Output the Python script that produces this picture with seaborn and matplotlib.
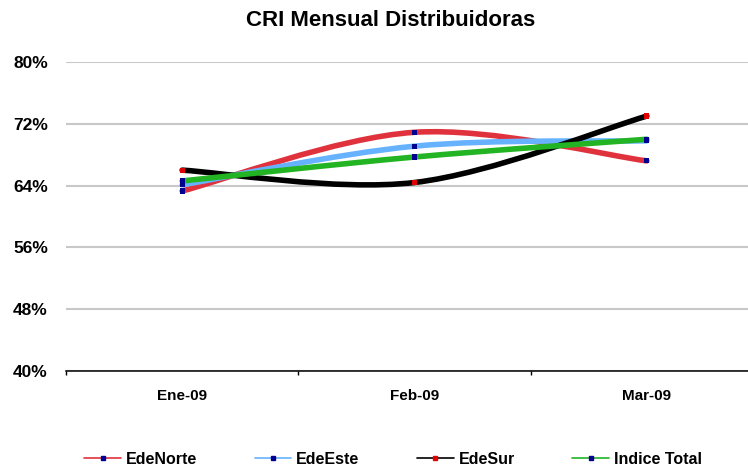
import numpy as np
import pandas as pd
import matplotlib
matplotlib.use("Agg")
import matplotlib.pyplot as plt
import seaborn as sns
from matplotlib.path import Path
from matplotlib.patches import PathPatch
from matplotlib.lines import Line2D
from matplotlib.ticker import FuncFormatter

# ------------------------------------------------------------
# Datos (valores en %)
# ------------------------------------------------------------
meses = ["Ene-09", "Feb-09", "Mar-09"]
series = ["EdeNorte", "EdeEste", "EdeSur", "Indice Total"]
ede_norte = [63.3, 70.9, 67.2]
ede_este = [64.1, 69.1, 69.8]
ede_sur = [66.0, 64.4, 73.0]
indice_total = [64.6, 67.7, 70.0]
y_ticks = [40, 48, 56, 64, 72, 80]

colores_linea = {"EdeNorte": "#E0323C", "EdeEste": "#66B2FF",
                 "EdeSur": "#000000", "Indice Total": "#22B422"}
colores_marca = {"EdeNorte": "#000090", "EdeEste": "#000090",
                 "EdeSur": "#E00000", "Indice Total": "#000090"}

df = pd.DataFrame({
    "mes": meses * 4,
    "pos": list(range(len(meses))) * 4,
    "serie": np.repeat(series, len(meses)),
    "valor": ede_norte + ede_este + ede_sur + indice_total,
})


def curva_suave(xs, ys):
    """Curva tipo 'linea suavizada' de Excel (Bezier Catmull-Rom)."""
    pts = np.column_stack([xs, ys]).astype(float)
    ext = np.vstack([pts[0], pts, pts[-1]])
    verts = [pts[0]]
    codes = [Path.MOVETO]
    for i in range(len(pts) - 1):
        p0, p1, p2, p3 = ext[i], ext[i + 1], ext[i + 2], ext[i + 3]
        verts += [p1 + (p2 - p0) / 6, p2 - (p3 - p1) / 6, p2]
        codes += [Path.CURVE4] * 3
    return Path(verts, codes)


sns.set_theme(style="white")
plt.rcParams["font.family"] = ["Liberation Sans", "DejaVu Sans"]
plt.rcParams["font.weight"] = "bold"
plt.rcParams["text.color"] = "black"
plt.rcParams["xtick.color"] = "black"
plt.rcParams["ytick.color"] = "black"

fig = plt.figure(figsize=(7.48, 4.68), dpi=100)
ax = fig.add_axes([66 / 748, (468 - 371) / 468, 697 / 748, 309 / 468])

# lineas suavizadas
for s in series:
    sub = df[df["serie"] == s]
    ax.add_patch(PathPatch(curva_suave(sub["pos"], sub["valor"]),
                           facecolor="none", edgecolor=colores_linea[s],
                           lw=4, capstyle="round", joinstyle="round", zorder=3))

# marcadores
sns.scatterplot(data=df, x="pos", y="valor", hue="serie", palette=colores_marca,
                marker="s", s=14, linewidth=0, legend=False, zorder=5, ax=ax)

ax.set_xlim(-0.5, 2.5)
ax.set_ylim(40, 80)
ax.set_yticks(y_ticks)
ax.yaxis.set_major_formatter(FuncFormatter(lambda v, _: f"{v:.0f}%"))
ax.set_xticks([-0.5, 0.5, 1.5, 2.5])
ax.set_xticklabels([])
ax.set_xticks(range(len(meses)), minor=True)
ax.set_xticklabels(meses, minor=True, fontsize=11, fontweight="bold")
ax.tick_params(axis="x", which="major", length=3, width=1, color="black",
               direction="out", bottom=True)
ax.tick_params(axis="x", which="minor", length=0, pad=13, labelcolor="black")
ax.tick_params(axis="y", length=0, pad=13, labelsize=12.5, labelcolor="black")
ax.set_xlabel("")
ax.set_ylabel("")

ax.grid(axis="y", color="#C8C8C8", lw=1.5)
ax.grid(axis="x", visible=False)
ax.set_axisbelow(True)
for lado in ["left", "top", "right"]:
    ax.spines[lado].set_visible(False)
ax.spines["bottom"].set_color("black")
ax.spines["bottom"].set_linewidth(1.1)
ax.spines["bottom"].set_zorder(2.5)

fig.text(391 / 748, 1 - 20 / 468, "CRI Mensual Distribuidoras",
         ha="center", va="center", fontsize=16, fontweight="bold", color="black")

handles = [Line2D([], [], color=colores_linea[s], lw=1.2, marker="s", ms=3,
                  mfc=colores_marca[s], mec=colores_marca[s]) for s in series]
fig.legend(handles, series, loc="center", bbox_to_anchor=(393 / 748, 1 - 459 / 468),
           ncol=4, frameon=False, fontsize=11.5, handlelength=2.3,
           handletextpad=0.3, columnspacing=3.6, borderpad=0.2)

fig.savefig("out.png", dpi=100)
